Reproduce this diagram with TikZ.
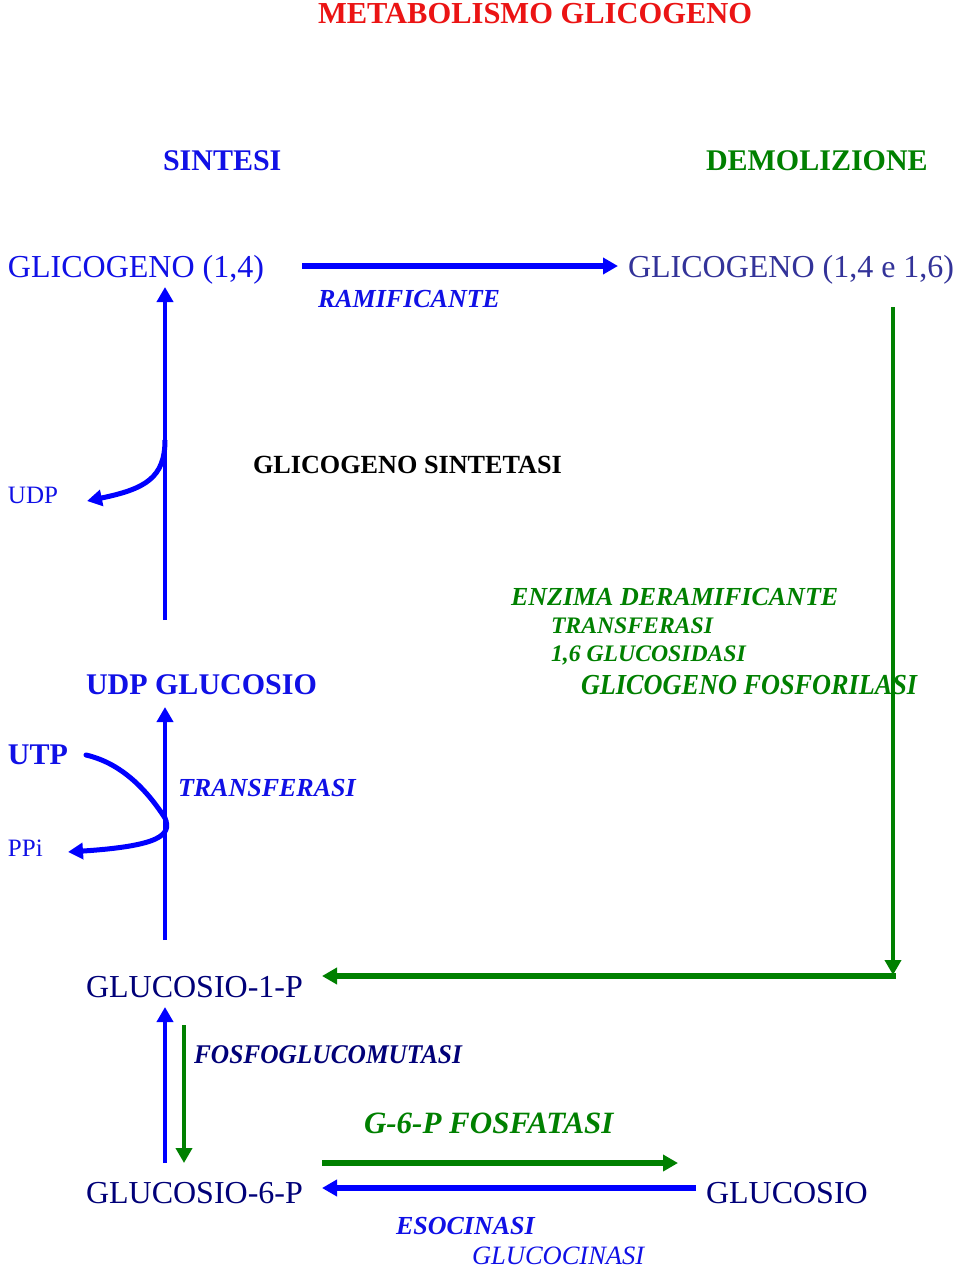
\documentclass[tikz,border=0pt]{standalone}
\usepackage{fontspec}
\setmainfont{Liberation Serif}
\usetikzlibrary{arrows.meta}
\definecolor{tred}{RGB}{235,20,20}
\definecolor{tblue}{RGB}{16,16,230}
\definecolor{ablue}{RGB}{0,0,255}
\definecolor{slate}{RGB}{51,51,153}
\definecolor{navy}{RGB}{0,0,120}
\definecolor{dgreen}{RGB}{0,128,0}
\begin{document}
\begin{tikzpicture}[x=1pt,y=-1pt,
  lbl/.style={anchor=base west, inner sep=0pt, outer sep=0pt},
  titlef/.style={lbl, font=\fontsize{30.5}{32}\selectfont\bfseries, text=tred},
  head/.style={lbl, font=\fontsize{30}{32}\selectfont\bfseries},
  chem/.style={lbl, font=\fontsize{32}{34}\selectfont},
  boldm/.style={lbl, font=\fontsize{26.2}{28}\selectfont\bfseries},
  enz/.style={lbl, font=\fontsize{26}{28}\selectfont\bfseries\itshape},
  enzs/.style={lbl, font=\fontsize{23.7}{26}\selectfont\bfseries\itshape},
  enzl/.style={lbl, font=\fontsize{31}{33}\selectfont\bfseries\itshape},
  itl/.style={lbl, font=\fontsize{26.5}{28}\selectfont\itshape},
  smallf/.style={lbl, font=\fontsize{25}{27}\selectfont},
  arr/.style={-{Triangle[length=15pt,width=16pt]}},
  bline/.style={draw=ablue, line width=4.5pt},
  gline/.style={draw=dgreen, line width=4.5pt}
]
\useasboundingbox (0,0) rectangle (960,1271);
\fill[white] (0,0) rectangle (960,1271);

% texts
\node[titlef] (title) at (318,24) {METABOLISMO GLICOGENO};
\node[head, text=tblue] (sint) at (163,170) {SINTESI};
\node[head, text=dgreen] (demo) at (706,170) {DEMOLIZIONE};
\node[chem, text=tblue] (g14) at (8,277) {GLICOGENO (1,4)};
\node[chem, text=slate] (g1416) at (628,277) {GLICOGENO (1,4 e 1,6)};
\node[enz, text=tblue] (ramif) at (318,307) {RAMIFICANTE};
\node[boldm, text=black] (gsint) at (253,473) {GLICOGENO SINTETASI};
\node[smallf, text=tblue] (udp) at (8,503) {UDP};
\node[head, text=tblue] (udpg) at (86,694) {UDP GLUCOSIO};
\node[enz, text=dgreen] (enzd) at (511,605) {ENZIMA DERAMIFICANTE};
\node[enzs, text=dgreen] (transf2) at (551,633) {TRANSFERASI};
\node[enzs, text=dgreen] (gluc16) at (551,661) {1,6 GLUCOSIDASI};
\node[lbl, font=\fontsize{29}{31}\selectfont\bfseries\itshape, text=dgreen] (gfosf) at (581,694) {\scalebox{0.905}[1]{GLICOGENO FOSFORILASI}};
\node[head, text=tblue] (utp) at (8,764) {UTP};
\node[enz, text=tblue] (transf1) at (178,796) {TRANSFERASI};
\node[smallf, text=tblue] (ppi) at (8,856) {PPi};
\node[chem, text=navy] (g1p) at (86,997) {GLUCOSIO-1-P};
\node[lbl, font=\fontsize{27}{29}\selectfont\bfseries\itshape, text=navy] (fgm) at (194,1063) {\scalebox{0.94}[1]{FOSFOGLUCOMUTASI}};
\node[enzl, text=dgreen] (g6pf) at (364,1133) {G-6-P FOSFATASI};
\node[chem, text=navy] (g6p) at (86,1203) {GLUCOSIO-6-P};
\node[chem, text=navy] (glu) at (706,1203) {GLUCOSIO};
\node[enz, text=tblue] (eso) at (396,1234) {ESOCINASI};
\node[itl, text=tblue] (gluco) at (472,1264) {GLUCOCINASI};

% coordinates
\coordinate (ramA) at (302,266);
\coordinate (ramB) at (618,266);
\coordinate (synA) at (165,620);
\coordinate (synB) at (165,287);
\coordinate (udpA) at (165,440);
\coordinate (udpB) at (87,501);
\coordinate (trA) at (165,940);
\coordinate (trB) at (165,707);
\coordinate (utpA) at (86,755);
\coordinate (utpM) at (165,818);
\coordinate (ppiB) at (68,852);
\coordinate (demA) at (893,307);
\coordinate (demB) at (893,975);
\coordinate (demC) at (895.5,976);
\coordinate (demD) at (322,976);
\coordinate (mutUpA) at (165,1163);
\coordinate (mutUpB) at (165,1007);
\coordinate (mutDnA) at (184,1025);
\coordinate (mutDnB) at (184,1163);
\coordinate (fosA) at (322,1163);
\coordinate (fosB) at (678,1163);
\coordinate (esoA) at (696,1188);
\coordinate (esoB) at (322,1188);

% synthesis (blue)
\draw[bline, line width=5.5pt, arr] (ramA) -- (ramB);
\draw[bline, arr] (synA) -- (synB);
\draw[bline, line width=5pt, arr] (udpA) .. controls (165,478) and (145,489) .. (udpB);
\draw[bline, arr] (trA) -- (trB);
\draw[bline, line width=5pt, arr, line cap=round] (utpA) .. controls (125,764) and (150,795) .. (utpM) .. controls (172,835) and (160,846) .. (ppiB);

% degradation (green)
\draw[gline, arr] (demA) -- (demB);
\draw[gline, line width=5.5pt, arr] (demC) -- (demD);

% bottom
\draw[bline, arr] (mutUpA) -- (mutUpB);
\draw[gline, arr] (mutDnA) -- (mutDnB);
\draw[gline, line width=5.5pt, arr] (fosA) -- (fosB);
\draw[bline, line width=5.5pt, arr] (esoA) -- (esoB);
\end{tikzpicture}
\end{document}
